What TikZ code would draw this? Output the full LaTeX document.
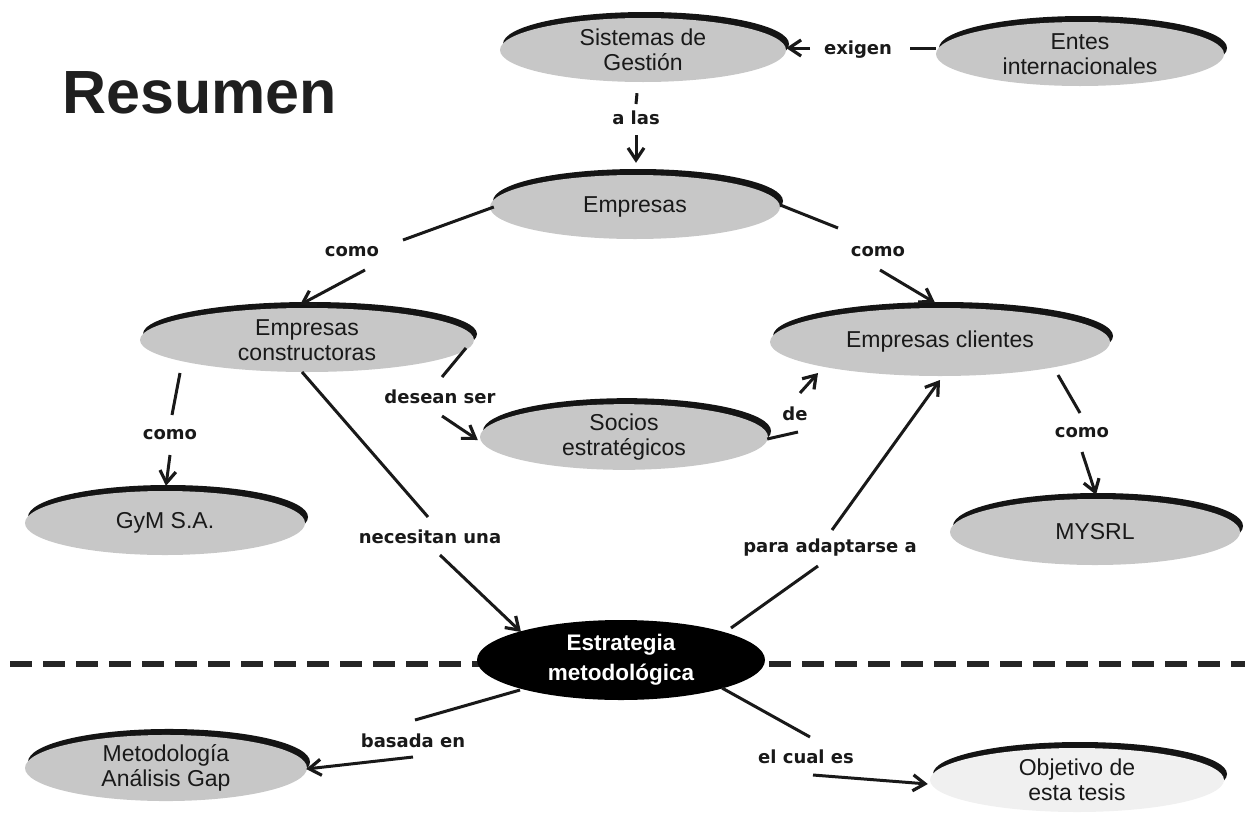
\documentclass[tikz,border=0pt]{standalone}
\usepackage{fontspec}
\setmainfont{Liberation Sans}
\newfontfamily\lblfont{DejaVu Sans}
\usetikzlibrary{shapes.geometric,shadows,arrows.meta,calc}
\pgfdeclarelayer{background}
\pgfsetlayers{background,main}
\begin{document}
\begin{tikzpicture}[x=1pt,y=-1pt,
  concept/.style={ellipse, draw=none, fill=black!22, inner sep=0pt, align=center,
    text=black!90, font=\fontsize{23}{25}\selectfont,
    general shadow={fill=black!92, shadow xshift=3pt, shadow yshift=6pt}},
  darkconcept/.style={ellipse, draw=none, fill=black, inner sep=0pt, align=center,
    text=white, font=\bfseries\fontsize{22.5}{30}\selectfont},
  lbl/.style={font=\lblfont\bfseries\fontsize{18}{20}\selectfont, text=black!90, inner sep=2pt},
  conn/.style={line width=3pt, draw=black!90},
  arr/.style={conn, -{Straight Barb[length=12pt,width=16pt,line width=3.2pt]}},
]
\useasboundingbox (0,0) rectangle (1247,814);

\node[anchor=base west, font=\bfseries\fontsize{61}{61}\selectfont, text=black!88, inner sep=0pt] (title) at (62,113) {Resumen};

% concepts
\node[concept, minimum width=286pt, minimum height=64pt] (sis) at (643,50) {Sistemas de\\Gestión};
\node[concept, minimum width=288pt, minimum height=64pt] (entes) at (1080,54) {Entes\\internacionales};
\node[concept, minimum width=290pt, minimum height=64pt] (emp) at (635,207) {Empresas};
\node[concept, minimum width=334pt, minimum height=64pt] (cons) at (307,340) {Empresas\\constructoras};
\node[concept, minimum width=340pt, minimum height=68pt] (cli) at (940,342) {Empresas clientes};
\node[concept, minimum width=288pt, minimum height=62pt] (soc) at (624,437) {Socios\\estratégicos};
\node[concept, minimum width=280pt, minimum height=64pt] (gym) at (165,523) {GyM S.A.};
\node[concept, minimum width=290pt, minimum height=66pt] (mys) at (1095,532) {MYSRL};
\node[darkconcept, minimum width=288pt, minimum height=80pt] (est) at (621,660) {Estrategia\\metodológica};
\node[concept, minimum width=282pt, minimum height=66pt] (met) at (166,768) {Metodología\\Análisis Gap};
\node[concept, fill=black!6, minimum width=294pt, minimum height=64pt] (obj) at (1077,780) {Objetivo de\\esta tesis};

% dashed separator
\begin{pgfonlayer}{background}
\draw[line width=6pt, dash pattern=on 22pt off 11pt, black!85] (10,664) -- (1245,664);
\end{pgfonlayer}

% labels
\node[lbl] (exigen) at (858,50) {exigen};
\node[lbl] (alas) at (636,118) {a las};
\node[lbl] (como1) at (352,252) {como};
\node[lbl] (como2) at (878,252) {como};
\node[lbl] (como3) at (170,435) {como};
\node[lbl] (desean) at (440,397) {desean ser};
\node[lbl] (de) at (795,414) {de};
\node[lbl] (como4) at (1082,433) {como};
\node[lbl] (necesitan) at (430,537) {necesitan una};
\node[lbl] (para) at (830,548) {para adaptarse a};
\node[lbl] (basada) at (413,741) {basada en};
\node[lbl] (elcual) at (806,757) {el cual es};

% connectors
\draw[conn] ($(entes.west)+(0,-6)$) -- ($(exigen)+(52,-2)$);
\draw[arr] ($(exigen)+(-48,-2)$) -- ($(sis.east)+(0,-2)$);
\draw[conn] ($(sis.south)+(-6,11)$) -- ($(alas)+(0,-14)$);
\draw[arr] ($(alas)+(0,17)$) -- ($(emp.north)+(1,-12)$);
\draw[conn] ($(emp.west)+(4,0)$) -- ($(como1)+(51,-12)$);
\draw[arr] ($(como1)+(13,18)$) -- ($(cons.north)+(-7,-3)$);
\draw[conn] ($(emp.east)+(0,-2)$) -- ($(como2)+(-40,-24)$);
\draw[arr] ($(como2)+(2,18)$) -- ($(cli.north)+(-5,-5)$);
\draw[conn] ($(cons)+(-127,33)$) -- ($(como3)+(2,-20)$);
\draw[arr] ($(como3)+(0,20)$) -- ($(gym.north)+(1,-5)$);
\draw[conn] ($(cons)+(159,8)$) -- ($(desean)+(2,-20)$);
\draw[arr] ($(desean)+(2,19)$) -- ($(soc.west)+(-2,3)$);
\draw[conn] ($(soc.east)+(-1,2)$) -- ($(de)+(3,18)$);
\draw[arr] ($(de)+(5,-21)$) -- ($(cli)+(-122,31)$);
\draw[conn] ($(cli)+(118,33)$) -- ($(como4)+(-2,-20)$);
\draw[arr] ($(como4)+(0,19)$) -- ($(mys.north)+(1,-4)$);
\draw[conn] ($(cons)+(-5,32)$) -- ($(necesitan)+(-2,-20)$);
\draw[arr] ($(necesitan)+(10,18)$) -- ($(est)+(-100,-28)$);
\draw[conn] ($(est)+(110,-32)$) -- ($(para)+(-12,18)$);
\draw[arr] ($(para)+(2,-18)$) -- ($(cli)+(0,38)$);
\draw[conn] ($(est)+(-101,30)$) -- ($(basada)+(2,-21)$);
\draw[arr] ($(basada)+(0,16)$) -- ($(met.east)+(-1,1)$);
\draw[conn] ($(est)+(101,28)$) -- ($(elcual)+(4,-20)$);
\draw[arr] ($(elcual)+(7,18)$) -- ($(obj.west)+(-2,4)$);
\end{tikzpicture}
\end{document}
